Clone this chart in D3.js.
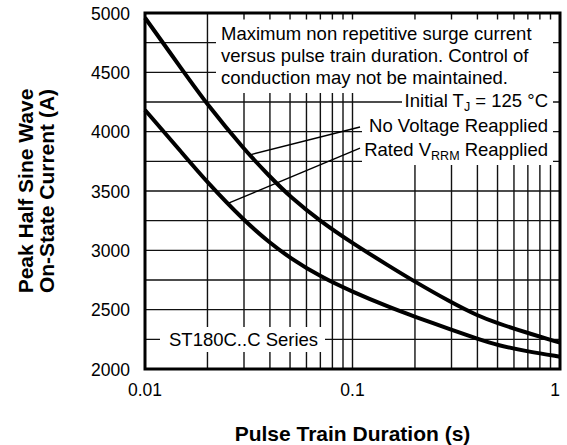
<!DOCTYPE html>
<html>
<head>
<meta charset="utf-8">
<script src="https://cdn.jsdelivr.net/npm/d3@7/dist/d3.min.js"></script>
<style>
  html, body { margin: 0; padding: 0; background: #fff; }
  svg { display: block; font-family: "Liberation Sans", Arial, Helvetica, sans-serif; }
</style>
</head>
<body>
<svg id="chart" width="567" height="445"></svg>
<script>
// Pulse train duration (s)
const duration = [0.01, 0.015, 0.02, 0.03, 0.04, 0.05, 0.07, 0.1, 0.15, 0.2, 0.3, 0.4, 0.5, 0.7, 1];
// Peak half sine wave on-state current (A), no voltage reapplied
const noVoltage = [4960, 4530, 4225, 3852, 3620, 3452, 3245, 3060, 2868, 2735, 2560, 2450, 2385, 2303, 2222];
// Peak half sine wave on-state current (A), rated VRRM reapplied
const ratedVrrm = [4183, 3826, 3570, 3250, 3062, 2936, 2778, 2650, 2521, 2440, 2330, 2255, 2200, 2147, 2104];

const xTickValues = [0.01, 0.1, 1];
const xTickLabels = ["0.01", "0.1", "1"];
const yTickValues = [2000, 2500, 3000, 3500, 4000, 4500, 5000];
const yTickLabels = ["2000", "2500", "3000", "3500", "4000", "4500", "5000"];
const yGridStep = 250;

const noteLines = [
  "Maximum non repetitive surge current",
  "versus pulse train duration. Control of",
  "conduction may not be maintained."
];
const seriesName = "ST180C..C Series";
const xTitle = "Pulse Train Duration (s)";
const yTitleLines = ["Peak Half Sine Wave", "On-State Current (A)"];

// leader lines: [duration, current] at the curve, [duration, current] near the label
const noVoltageLeader = [[0.0321, 3805], [0.1087, 4039]];
const ratedLeader = [[0.0251, 3395], [0.1087, 3862]];

const svg = d3.select("#chart");
const W = 567, H = 445;
const m = { left: 145, top: 13, right: 7, bottom: 76 };

const x = d3.scaleLog().domain([0.01, 1]).range([m.left, W - m.right]);
const y = d3.scaleLinear().domain([2000, 5000]).range([H - m.bottom, m.top]);

const [x0, x1] = x.range();
const [y0, y1] = y.range(); // y0 bottom, y1 top

// grid
const grid = svg.append("g").attr("stroke", "#111").attr("stroke-width", 1.4);
grid.selectAll("line.v").data(x.ticks()).join("line")
  .attr("x1", d => x(d)).attr("x2", d => x(d))
  .attr("y1", y1).attr("y2", y0);
grid.selectAll("line.h").data(d3.range(2000, 5001, yGridStep)).join("line")
  .attr("x1", x0).attr("x2", x1)
  .attr("y1", d => y(d)).attr("y2", d => y(d));

// white panels behind the annotations
const panels = svg.append("g").attr("fill", "#fff");
panels.append("rect").attr("x", 216).attr("y", 19.5).attr("width", 337).attr("height", 73.5);
panels.append("rect").attr("x", 402).attr("y", 92).attr("width", 151).attr("height", 23);
panels.append("rect").attr("x", 362).attr("y", 114).attr("width", 191).attr("height", 51);
panels.append("rect").attr("x", 160).attr("y", 327).attr("width", 165).attr("height", 25);

// curves
const line = d3.line()
  .x(d => x(d[0]))
  .y(d => y(d[1]))
  .curve(d3.curveBasis);

[noVoltage, ratedVrrm].forEach(series => {
  svg.append("path")
    .datum(duration.map((t, i) => [t, series[i]]))
    .attr("fill", "none")
    .attr("stroke", "#000")
    .attr("stroke-width", 4)
    .attr("stroke-linejoin", "round")
    .attr("d", line);
});

// leader lines
[noVoltageLeader, ratedLeader].forEach(seg => {
  svg.append("line")
    .attr("x1", x(seg[0][0])).attr("y1", y(seg[0][1]))
    .attr("x2", x(seg[1][0])).attr("y2", y(seg[1][1]))
    .attr("stroke", "#000").attr("stroke-width", 1.4);
});

// annotation text
const note = svg.append("g").attr("font-size", 18.5).attr("fill", "#000");
noteLines.forEach((t, i) => {
  note.append("text").attr("x", 221).attr("y", 39.5 + i * 22).text(t);
});

const tj = note.append("text").attr("x", 548).attr("y", 107).attr("text-anchor", "end");
tj.append("tspan").text("Initial T");
tj.append("tspan").attr("font-size", 12.5).attr("dy", 4).text("J");
tj.append("tspan").attr("dy", -4).text(" = 125 °C");

note.append("text").attr("x", 548).attr("y", 132).attr("text-anchor", "end")
  .text("No Voltage Reapplied");

const rv = note.append("text").attr("x", 548).attr("y", 156).attr("text-anchor", "end");
rv.append("tspan").text("Rated V");
rv.append("tspan").attr("font-size", 12.5).attr("dy", 4).text("RRM");
rv.append("tspan").attr("dy", -4).text(" Reapplied");

note.append("text").attr("x", 169).attr("y", 345.5).text(seriesName);

// frame
svg.append("rect")
  .attr("x", x0).attr("y", y1)
  .attr("width", x1 - x0).attr("height", y0 - y1)
  .attr("fill", "none").attr("stroke", "#000").attr("stroke-width", 3);

// tick labels
const ticks = svg.append("g").attr("font-size", 17.5).attr("fill", "#000");
ticks.selectAll("text.y").data(yTickValues).join("text")
  .attr("x", 130).attr("y", d => y(d) + 6.5)
  .attr("text-anchor", "end")
  .text((d, i) => yTickLabels[i]);
ticks.selectAll("text.x").data(xTickValues).join("text")
  .attr("x", d => x(d))
  .attr("y", 396)
  .attr("text-anchor", (d, i) => i === xTickValues.length - 1 ? "end" : "middle")
  .text((d, i) => xTickLabels[i]);

// axis titles
svg.append("text")
  .attr("x", (x0 + x1) / 2).attr("y", 441)
  .attr("text-anchor", "middle")
  .attr("font-size", 21).attr("font-weight", "bold")
  .text(xTitle);

const yt = svg.append("g").attr("transform", "translate(0,191) rotate(-90)");
yTitleLines.forEach((t, i) => {
  yt.append("text")
    .attr("x", 0).attr("y", 33 + i * 21)
    .attr("text-anchor", "middle")
    .attr("font-size", 21).attr("font-weight", "bold")
    .text(t);
});
</script>
</body>
</html>
